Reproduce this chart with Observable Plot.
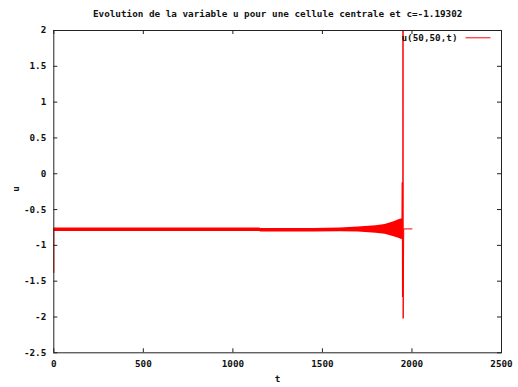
<!DOCTYPE html>
<html>
<head>
<meta charset="utf-8">
<script src="https://cdn.jsdelivr.net/npm/d3@7"></script>
<script src="https://cdn.jsdelivr.net/npm/@observablehq/plot@0.6"></script>
<style>
  html, body { margin: 0; padding: 0; background: #fff; }
  #chart svg { display: block; }
</style>
</head>
<body>
<div id="chart"></div>
<script>
// ---- data ----
const title = "Evolution de la variable u pour une cellule centrale et c=-1.19302";
const xLabel = "t";
const yLabel = "u";
const legendLabel = "u(50,50,t)";

const xTicks = [0, 500, 1000, 1500, 2000, 2500];
const xTickLabels = ["0", "500", "1000", "1500", "2000", "2500"];
const yTicks = [2, 1.5, 1, 0.5, 0, -0.5, -1, -1.5, -2, -2.5];
const yTickLabels = ["2", "1.5", "1", "0.5", "0", "-0.5", "-1", "-1.5", "-2", "-2.5"];

// envelope of the fast oscillation of u(50,50,t)
const envT  = [0,      1150,   1156,   1450,   1600,   1700,   1800,   1850,   1900,   1930,   1945,  1949];
const envHi = [-0.757, -0.757, -0.765, -0.765, -0.757, -0.745, -0.725, -0.71,  -0.67,  -0.64,  -0.63, -0.66];
const envLo = [-0.807, -0.807, -0.812, -0.815, -0.81,  -0.815, -0.83,  -0.845, -0.88,  -0.905, -0.92, -0.90];

// initial transient and the final burst
const traceT = [0,     0,     5,     1944,  1946,  1947,  1949,  1950, 1951,  1953,  1954,  2000];
const traceU = [-1.38, -0.78, -0.78, -0.78, -0.12, -1.72, -0.78, 2.0,  -2.02, -1.17, -0.77, -0.77];

// ---- build tables ----
const band = envT.map((t, i) => ({t, hi: envHi[i], lo: envLo[i]}));
const trace = traceT.map((t, i) => ({t, u: traceU[i]}));
const xt = xTicks.map((v, i) => ({v, label: xTickLabels[i]}));
const yt = yTicks.map((v, i) => ({v, label: yTickLabels[i]}));

const W = 518, H = 387;
const mL = 53.3, mR = 17, mT = 30, mB = 34.7;
const fw = W - mL - mR, fh = H - mT - mB;
const tick = 4;
const font = "DejaVu Sans Mono";
const red = "#ff0000";

const legendSymbol = { draw(ctx, size) { ctx.moveTo(-12.5, 0); ctx.lineTo(12.5, 0); } };

const chart = Plot.plot({
  width: W, height: H,
  marginLeft: mL, marginRight: mR, marginTop: mT, marginBottom: mB,
  style: { fontFamily: font, fontWeight: "bold", fontSize: "9.3px", background: "#fff", color: "#111" },
  x: { domain: [0, 2500], axis: null },
  y: { domain: [-2.5, 2], axis: null },
  marks: [
    // oscillation band
    Plot.areaY(band, { x: "t", y1: "lo", y2: "hi", fill: red, curve: "linear" }),
    Plot.line(band, { x: "t", y: d => (d.hi + d.lo) / 2, stroke: red, strokeWidth: 1 }),
    Plot.line(trace, { x: "t", y: "u", stroke: red, strokeWidth: 1 }),
    // frame and inward ticks (mirrored)
    Plot.frame({ stroke: "#222", strokeWidth: 1 }),
    Plot.ruleX(xTicks, { x: d => d, insetTop: fh - tick, stroke: "#222" }),
    Plot.ruleX(xTicks, { x: d => d, insetBottom: fh - tick, stroke: "#222" }),
    Plot.ruleY(yTicks, { y: d => d, insetRight: fw - tick, stroke: "#222" }),
    Plot.ruleY(yTicks, { y: d => d, insetLeft: fw - tick, stroke: "#222" }),
    // tick labels
    Plot.text(xt, { x: "v", text: "label", frameAnchor: "bottom", dy: 11, textAnchor: "middle", lineAnchor: "middle", fill: "#111" }),
    Plot.text(yt, { y: "v", text: "label", frameAnchor: "left", dx: -7.5, textAnchor: "end", lineAnchor: "middle", fill: "#111" }),
    // axis labels and title
    Plot.text([xLabel], { frameAnchor: "bottom", dy: 26, lineAnchor: "middle", fill: "#111" }),
    Plot.text([yLabel], { frameAnchor: "left", dx: -38, rotate: -90, lineAnchor: "middle", fill: "#111" }),
    Plot.text([title], { frameAnchor: "top", dy: -16, lineAnchor: "middle", fill: "#111" }),
    // legend
    Plot.text([legendLabel], { frameAnchor: "top-right", dx: -44, dy: 7.3, textAnchor: "end", lineAnchor: "middle", fill: "#111" }),
    Plot.dot([legendLabel], { frameAnchor: "top-right", dx: -23.5, dy: 7.3, symbol: legendSymbol, r: 5, stroke: red, fill: "none", strokeWidth: 1 })
  ]
});
document.getElementById("chart").appendChild(chart);
</script>
</body>
</html>
